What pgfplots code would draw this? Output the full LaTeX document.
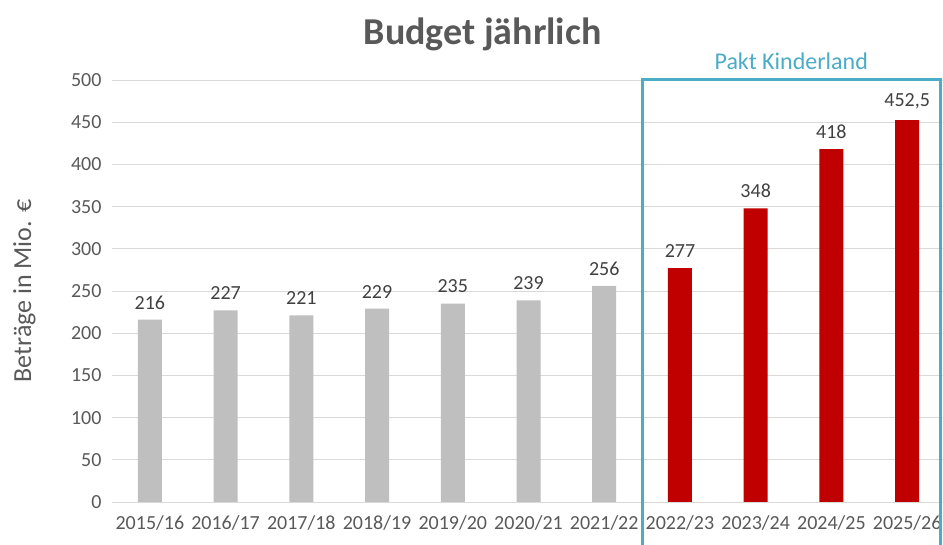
\documentclass[border=0pt]{standalone}
\usepackage{pgfplots}
\pgfplotsset{compat=1.18}
\usepackage{fontspec}
\setmainfont{Carlito}
\definecolor{txt}{HTML}{595959}
\definecolor{lbl}{HTML}{404040}
\definecolor{gridc}{HTML}{D9D9D9}
\definecolor{bargray}{HTML}{BFBFBF}
\definecolor{barred}{HTML}{C00000}
\definecolor{pakt}{HTML}{4BACC6}
\begin{document}
\begin{tikzpicture}[x=1pt,y=1pt]
\useasboundingbox (0,0) rectangle (943,545);
\begin{axis}[
  at={(112pt,43pt)}, anchor=south west,
  scale only axis, width=833pt, height=422pt,
  xmin=-0.5, xmax=10.5, ymin=0, ymax=500,
  ytick={0,50,...,500},
  xtick={0,...,10},
  xticklabels={2015/16,2016/17,2017/18,2018/19,2019/20,2020/21,2021/22,2022/23,2023/24,2024/25,2025/26},
  axis line style={draw=none},
  major tick style={draw=none},
  xmajorgrids=false, ymajorgrids=true,
  major grid style={draw=gridc, line width=0.8pt},
  tick label style={font=\fontsize{20}{23}\selectfont, text=txt},
  yticklabel style={xshift=-7pt},
  xticklabel style={yshift=-6pt},
  /pgf/number format/assume math mode=true,
  /pgf/number format/use comma,
  /pgf/number format/1000 sep={},
  ylabel={Beträge in Mio. €},
  ylabel style={font=\fontsize{26}{30}\selectfont, text=txt, at={(axis description cs:-0.105,0.5)}, anchor=center},
  clip=false,
  ybar, bar width=24pt, bar shift=0pt,
  nodes near coords,
  every node near coord/.append style={font=\fontsize{20}{23}\selectfont, text=lbl, yshift=7pt},
  title={Budget jährlich},
  title style={font=\fontsize{38}{44}\selectfont\bfseries, text=txt, at={(0.445,1)}, anchor=south, yshift=20pt},
]
\addplot[fill=bargray, draw=none] coordinates {(0,216) (1,227) (2,221) (3,229) (4,235) (5,239) (6,256)};
\addplot[fill=barred, draw=none] coordinates {(7,277) (8,348) (9,418) (10,452.5)};
\draw[pakt, line width=3pt] (axis cs:6.5,-60) -- (axis cs:6.5,500) -- (axis cs:10.44,500) -- (axis cs:10.44,-60);
\node[text=pakt, font=\fontsize{24}{28}\selectfont, anchor=south] at (axis cs:8.47,508) {Pakt Kinderland};
\end{axis}
\end{tikzpicture}
\end{document}
